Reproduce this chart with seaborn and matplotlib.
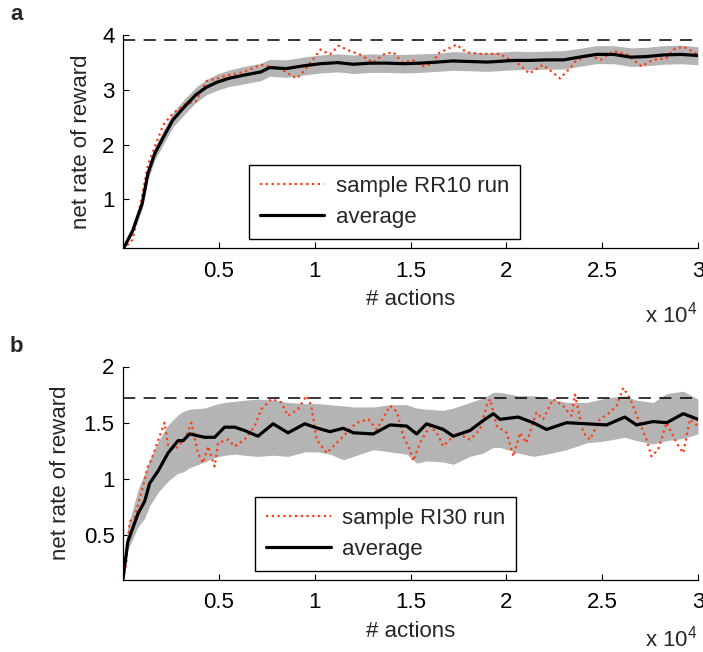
import matplotlib
matplotlib.use("Agg")
import matplotlib.pyplot as plt
import seaborn as sns

# ---------------- data ----------------
# x axis (number of actions)
x_ticks = [5000, 10000, 15000, 20000, 25000, 30000]
x_tick_labels = ["0.5", "1", "1.5", "2", "2.5", "3"]

# Panel a: RR10
a_yticks = [1, 2, 3, 4]
a_yticklabels = ["1", "2", "3", "4"]
a_ref = 3.92
a_x_avg = [0, 500, 1000, 1300, 1650, 2100, 2600, 3200, 3800, 4350, 4900, 5500, 6300, 7200, 7650,
           8500, 9400, 10300, 11200, 12000, 12900, 13800, 14600, 15500, 16400, 17200, 18100, 19000,
           19500, 20400, 21200, 22100, 23000, 23800, 24700, 25600, 26500, 27300, 28200, 29100, 30000]
a_avg = [0.08, 0.42, 0.92, 1.47, 1.83, 2.13, 2.45, 2.69, 2.91, 3.05, 3.14, 3.21, 3.27, 3.33, 3.41,
         3.39, 3.44, 3.48, 3.50, 3.47, 3.49, 3.49, 3.48, 3.49, 3.51, 3.53, 3.52, 3.51,
         3.52, 3.54, 3.54, 3.55, 3.55, 3.60, 3.65, 3.65, 3.60, 3.61, 3.64, 3.65, 3.63]
a_lo = [0.06, 0.36, 0.82, 1.35, 1.71, 2.00, 2.32, 2.55, 2.77, 2.91, 2.99, 3.06, 3.11, 3.17, 3.25,
        3.23, 3.27, 3.31, 3.33, 3.30, 3.32, 3.32, 3.31, 3.32, 3.34, 3.36, 3.35, 3.34,
        3.35, 3.37, 3.37, 3.38, 3.38, 3.43, 3.48, 3.48, 3.43, 3.44, 3.47, 3.48, 3.46]
a_hi = [0.10, 0.48, 1.02, 1.59, 1.95, 2.26, 2.58, 2.83, 3.05, 3.19, 3.29, 3.36, 3.43, 3.49, 3.56,
        3.55, 3.60, 3.64, 3.66, 3.64, 3.66, 3.65, 3.65, 3.66, 3.67, 3.70, 3.69, 3.68,
        3.69, 3.71, 3.70, 3.71, 3.72, 3.76, 3.81, 3.81, 3.77, 3.78, 3.81, 3.82, 3.79]
a_x_smp = [0, 500, 950, 1300, 1650, 2100, 2600, 3200, 3800, 4350, 4900, 5500, 6300, 7200, 7700,
           8200, 9050, 9400, 9900, 10300, 10800, 11250, 11850, 12350, 13050, 13600, 14100, 14600,
           15150, 15600, 16200, 16400, 17050, 17400, 17900, 18600, 19650, 20000, 20700, 21200,
           21900, 22350, 22800, 23250, 23650, 24350, 24900, 25600, 26300, 27050, 27650, 28350,
           28700, 29250, 30000]
a_smp = [0.08, 0.26, 0.98, 1.62, 1.95, 2.36, 2.57, 2.73, 2.79, 3.16, 3.21, 3.27, 3.33, 3.46, 3.42,
         3.39, 3.21, 3.33, 3.55, 3.74, 3.65, 3.81, 3.71, 3.65, 3.50, 3.65, 3.69, 3.50,
         3.54, 3.43, 3.48, 3.66, 3.77, 3.83, 3.69, 3.66, 3.66, 3.59, 3.46, 3.30,
         3.46, 3.34, 3.21, 3.37, 3.54, 3.64, 3.55, 3.71, 3.65, 3.43, 3.55, 3.58,
         3.74, 3.79, 3.65]

# Panel b: RI30
b_yticks = [0.5, 1, 1.5, 2]
b_yticklabels = ["0.5", "1", "1.5", "2"]
b_ref = 1.72
b_x_avg = [0, 250, 780, 1130, 1390, 1830, 2350, 2870, 3130, 3480, 4260, 4780, 5300, 5830, 6350,
           7040, 7830, 8610, 9480, 10170, 10800, 11490, 12020, 13060, 13930, 14800, 15320, 15840,
           16710, 17230, 18100, 18800, 19320, 19670, 20620, 21400, 22100, 23140, 24190, 25230,
           26180, 26790, 27660, 28370, 29230, 30000]
b_avg = [0.11, 0.44, 0.69, 0.80, 0.96, 1.07, 1.23, 1.34, 1.34, 1.40, 1.37, 1.37, 1.46, 1.46, 1.43,
         1.38, 1.49, 1.41, 1.49, 1.45, 1.42, 1.45, 1.41, 1.40, 1.48, 1.47, 1.40, 1.49,
         1.44, 1.38, 1.43, 1.52, 1.58, 1.53, 1.55, 1.50, 1.44, 1.50, 1.49, 1.48,
         1.55, 1.48, 1.51, 1.50, 1.58, 1.53]
b_lo = [0.10, 0.37, 0.57, 0.65, 0.76, 0.88, 0.98, 1.05, 1.06, 1.10, 1.15, 1.19, 1.21, 1.22, 1.21,
        1.20, 1.21, 1.20, 1.24, 1.24, 1.22, 1.17, 1.20, 1.26, 1.24, 1.22, 1.14, 1.16,
        1.15, 1.13, 1.20, 1.23, 1.28, 1.28, 1.23, 1.20, 1.22, 1.26, 1.32, 1.34,
        1.37, 1.34, 1.31, 1.34, 1.36, 1.40]
b_hi = [0.13, 0.57, 0.90, 1.05, 1.17, 1.33, 1.48, 1.57, 1.60, 1.62, 1.63, 1.66, 1.68, 1.69, 1.70,
        1.71, 1.70, 1.68, 1.67, 1.67, 1.66, 1.65, 1.64, 1.64, 1.66, 1.66, 1.63, 1.62,
        1.61, 1.63, 1.68, 1.72, 1.77, 1.77, 1.74, 1.74, 1.72, 1.68, 1.68, 1.72,
        1.74, 1.70, 1.68, 1.76, 1.78, 1.71]
b_x_smp = [0, 170, 350, 610, 1040, 1300, 1480, 1910, 2170, 2350, 2700, 3220, 3570, 3910, 4170,
           4440, 4780, 4960, 5480, 5830, 6350, 6870, 7220, 7740, 8260, 8610, 9130, 9570, 9830,
           10100, 10630, 10970, 11490, 12190, 12800, 13240, 13930, 14280, 14620, 14970, 15150,
           15490, 16020, 16370, 16710, 17410, 18100, 18630, 18970, 19150, 19500, 20020, 20370,
           20720, 21050, 21570, 21920, 22440, 22960, 23400, 23580, 24010, 24360, 24880, 25400,
           25750, 26100, 26440, 26960, 27310, 27570, 27920, 28360, 28880, 29230, 29580, 30000]
b_smp = [0.11, 0.25, 0.62, 0.66, 0.93, 1.11, 1.17, 1.38, 1.50, 1.30, 1.26, 1.35, 1.50, 1.23, 1.14,
         1.29, 1.11, 1.32, 1.35, 1.29, 1.35, 1.47, 1.62, 1.71, 1.68, 1.56, 1.62, 1.74, 1.65,
         1.35, 1.23, 1.29, 1.38, 1.50, 1.53, 1.44, 1.65, 1.60, 1.38, 1.26, 1.16,
         1.32, 1.47, 1.41, 1.29, 1.41, 1.35, 1.44, 1.65, 1.71, 1.47, 1.41, 1.20,
         1.41, 1.32, 1.59, 1.53, 1.71, 1.65, 1.56, 1.75, 1.41, 1.35, 1.53, 1.59,
         1.65, 1.81, 1.72, 1.50, 1.35, 1.20, 1.26, 1.50, 1.32, 1.23, 1.53, 1.47]

# ---------------- style ----------------
sns.set_style("ticks")
plt.rcParams["font.family"] = ["Liberation Sans", "DejaVu Sans"]
plt.rcParams["mathtext.fontset"] = "custom"
plt.rcParams["mathtext.rm"] = "Liberation Sans"
plt.rcParams["mathtext.it"] = "Liberation Sans"

FS = 16
RED = "#ff3a14"
GRAY = "#b4b4b4"

W, H = 703, 652
fig = plt.figure(figsize=(W / 100, H / 100), dpi=100)


def rect(left, top, right, bottom):
    return [left / W, 1 - bottom / H, (right - left) / W, (bottom - top) / H]


axA = fig.add_axes(rect(123, 35.3, 698, 248.3))
axB = fig.add_axes(rect(123, 366.5, 698, 580))


def draw(ax, x_avg, avg, lo, hi, x_smp, smp, label, ref, ylim, yticks, yticklabels,
         leg_anchor, ylab_x):
    ax.fill_between(x_avg, lo, hi, color=GRAY, linewidth=0, zorder=1)
    sns.lineplot(x=x_smp, y=smp, ax=ax, color=RED, linestyle=(0, (1, 1.6)), linewidth=1.6,
                 estimator=None, sort=False, label=label, zorder=2)
    sns.lineplot(x=x_avg, y=avg, ax=ax, color="black", linewidth=2.3,
                 estimator=None, sort=False, label="average", zorder=3)
    ax.axhline(ref, color="black", linewidth=1.1, dashes=(8, 5.5), zorder=4)
    ax.set_xlim(0, 30000)
    ax.set_ylim(*ylim)
    ax.set_xticks(x_ticks)
    ax.set_xticklabels(x_tick_labels)
    ax.set_yticks(yticks)
    ax.set_yticklabels(yticklabels)
    ax.tick_params(direction="in", length=4, width=0.8, labelsize=FS, pad=6, colors="black")
    ax.tick_params(axis="x", pad=9)
    for s in ["top", "right"]:
        ax.spines[s].set_visible(False)
    for s in ["left", "bottom"]:
        ax.spines[s].set_linewidth(0.9)
        ax.spines[s].set_color("black")
    ax.set_ylabel("net rate of reward", fontsize=FS)
    ax.yaxis.set_label_coords(ylab_x, 0.5)
    ax.set_xlabel("# actions", fontsize=FS, va="top")
    ax.xaxis.set_label_coords(0.5, -0.19)
    leg = ax.legend(loc="lower left", bbox_to_anchor=leg_anchor, frameon=True, fancybox=False,
                    edgecolor="black", framealpha=1, fontsize=FS, handlelength=2.9,
                    borderpad=0.5, labelspacing=0.45, handletextpad=0.5, borderaxespad=0)
    leg.get_frame().set_linewidth(1.0)


draw(axA, a_x_avg, a_avg, a_lo, a_hi, a_x_smp, a_smp, "sample RR10 run", a_ref, (0.1, 4.0),
     a_yticks, a_yticklabels, (0.219, 0.044), -0.054)
draw(axB, b_x_avg, b_avg, b_lo, b_hi, b_x_smp, b_smp, "sample RI30 run", b_ref, (0.1, 2.0),
     b_yticks, b_yticklabels, (0.23, 0.042), -0.09)

fig.text(697 / W, 1 - 323 / H, r"x 10$^{4}$", ha="right", va="baseline", fontsize=FS)
fig.text(697 / W, 1 - 647 / H, r"x 10$^{4}$", ha="right", va="baseline", fontsize=FS)
fig.text(10 / W, 1 - 15 / H, "a", fontsize=16, fontweight="bold", va="center", ha="left")
fig.text(10 / W, 1 - 346 / H, "b", fontsize=16, fontweight="bold", va="center", ha="left")

fig.savefig("out.png", dpi=100)
